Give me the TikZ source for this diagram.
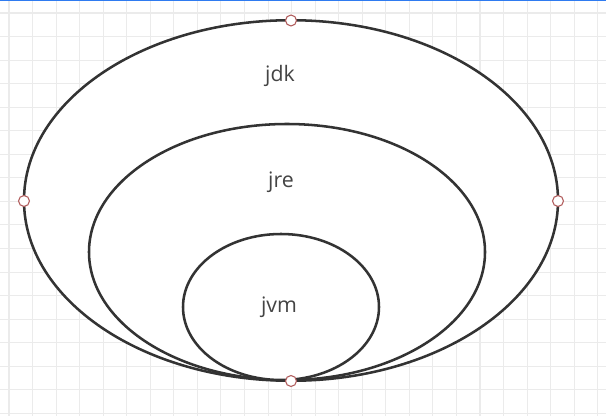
\documentclass[tikz,border=0pt]{standalone}
\usepackage{fontspec}
\setmainfont{Open Sans}
\definecolor{gridc}{HTML}{EBEBEB}
\definecolor{edgec}{HTML}{333333}
\definecolor{textc}{HTML}{444444}
\definecolor{handlec}{HTML}{B05A5A}
\definecolor{topblue}{HTML}{2F7BF0}
\begin{document}
\begin{tikzpicture}[x=0.75pt,y=-0.75pt,
  shell/.style={draw=edgec,line width=1.9pt,fill=white},
  label/.style={text=textc,font=\fontsize{16}{18}\selectfont,anchor=base,inner sep=0pt},
  handle/.style={draw=handlec,line width=0.8pt,fill=white}]
\useasboundingbox (0,0) rectangle (606,416);
\fill[white] (0,0) rectangle (606,416);
\foreach \i in {0,...,25} \draw[gridc,line width=0.8pt] (9+\i*23.55,0) -- (9+\i*23.55,416);
\foreach \j in {0,...,17} \draw[gridc,line width=0.8pt] (0,13+\j*23.55) -- (606,13+\j*23.55);
\fill[topblue] (0,0) rectangle (606,1.5);
% ellipses
\draw[shell] (291,200.5) ellipse [x radius=200.25pt, y radius=135.2pt];
\draw[shell] (287,252) ellipse [x radius=148.5pt, y radius=96pt];
\draw[shell] (281,307) ellipse [x radius=73.5pt, y radius=54.75pt];
% labels
\node[label] (jdk) at (280,81.5) {jdk};
\node[label] (jre) at (281,188) {jre};
\node[label] (jvm) at (279,312) {jvm};
% handles
\draw[handle] (291,20.5) circle [radius=4.1pt];
\draw[handle] (24,201) circle [radius=4.1pt];
\draw[handle] (558,201) circle [radius=4.1pt];
\draw[handle] (291,381) circle [radius=4.1pt];
\end{tikzpicture}
\end{document}
